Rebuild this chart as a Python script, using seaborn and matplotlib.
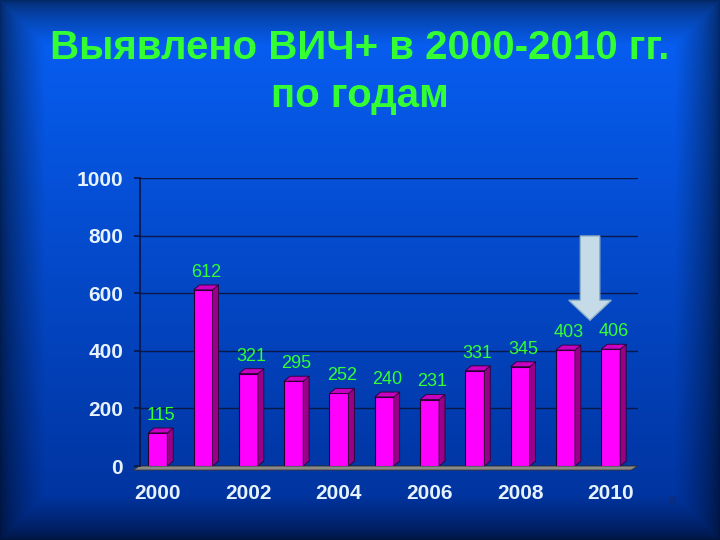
import numpy as np
import pandas as pd
import matplotlib
matplotlib.use('Agg')
import matplotlib.pyplot as plt
from matplotlib.patches import Polygon
import seaborn as sns

# data
years = ['2000', '2001', '2002', '2003', '2004', '2005',
         '2006', '2007', '2008', '2009', '2010']
cases = [115, 612, 321, 295, 252, 240, 231, 331, 345, 403, 406]
shown_years = ['2000', '2002', '2004', '2006', '2008', '2010']
y_ticks = [0, 200, 400, 600, 800, 1000]

title_1 = 'Выявлено ВИЧ+ в 2000-2010 гг.'
title_2 = 'по годам'

sns.set_theme(style='white')
plt.rcParams['font.family'] = ['Liberation Sans', 'DejaVu Sans']

fig = plt.figure(figsize=(7.2, 5.4), dpi=100)

# blue slide background with dark edges
bg = fig.add_axes([0, 0, 1, 1])
h, w = 540, 720
yy, xx = np.mgrid[0:h, 0:w]
t = (yy / h)[..., None]
top = np.array([0.03, 0.38, 0.97])
bottom = np.array([0.0, 0.19, 0.60])
img = top * (1 - t) + bottom * t
edge = np.minimum.reduce([xx, w - 1 - xx, yy, h - 1 - yy]) / 45
vign = 0.42 + 0.58 * np.clip(edge, 0, 1) ** 0.7
img = img * vign[..., None]
bg.imshow(img, aspect='auto', extent=[0, 1, 0, 1])
bg.axis('off')

# chart
ax = fig.add_axes([0.194, 0.137, 0.692, 0.533])
ax.patch.set_alpha(0)
df = pd.DataFrame({'year': years, 'cases': cases})
sns.barplot(data=df, x='year', y='cases', color='#ff00ff', saturation=1,
            width=0.42, edgecolor='#2a0030', linewidth=0.8, ax=ax, zorder=3)

ax.set_xlim(-0.4, 10.6)
ax.set_ylim(0, 1000)
ax.set_yticks(y_ticks)
ax.set_xticks([years.index(y) for y in shown_years])
ax.set_xticklabels(shown_years)
ax.set_xlabel('')
ax.set_ylabel('')
ax.yaxis.grid(True, color='#081848', linewidth=1, zorder=0)
for s in ['top', 'right', 'bottom']:
    ax.spines[s].set_visible(False)
ax.spines['left'].set_color('#081848')
ax.tick_params(axis='y', colors='#081848', labelcolor='#e6f2ff',
               labelsize=15, length=4, pad=8, left=True)
ax.tick_params(axis='x', labelcolor='#e6f2ff', labelsize=15, length=0, pad=13)
for lab in ax.get_xticklabels() + ax.get_yticklabels():
    lab.set_fontweight('bold')

# gray floor
floor = Polygon([(-0.55, -14), (10.45, -14), (10.6, 0), (-0.4, 0)],
                closed=True, facecolor='#8a8a8a', edgecolor='#303030',
                linewidth=0.6, clip_on=False, zorder=2)
ax.add_patch(floor)

# 3d look for the bars + value labels
dx, dy = 0.13, 17
for p, v in zip(ax.patches[:len(cases)], cases):
    x0, bw, bh = p.get_x(), p.get_width(), p.get_height()
    side = Polygon([(x0 + bw, 0), (x0 + bw + dx, dy), (x0 + bw + dx, bh + dy), (x0 + bw, bh)],
                   closed=True, facecolor='#990088', edgecolor='#2a0030',
                   linewidth=0.6, zorder=3)
    cap = Polygon([(x0, bh), (x0 + dx, bh + dy), (x0 + bw + dx, bh + dy), (x0 + bw, bh)],
                  closed=True, facecolor='#c800c0', edgecolor='#2a0030',
                  linewidth=0.6, zorder=3)
    ax.add_patch(side)
    ax.add_patch(cap)
    ax.annotate(str(v), (x0 + bw / 2 + dx / 2, bh + dy), xytext=(0, 3),
                textcoords='offset points', ha='center', va='bottom',
                color='#33ff33', fontsize=13)

# arrow pointing at 2010
arrow = Polygon([(0.806, 0.563), (0.833, 0.563), (0.833, 0.444), (0.849, 0.444),
                 (0.8195, 0.407), (0.790, 0.444), (0.806, 0.444)],
                closed=True, transform=fig.transFigure, facecolor='#c5dbe8',
                edgecolor='#8fb0c8', linewidth=1, zorder=5)
fig.patches.append(arrow)

# title
fig.text(0.5, 0.912, title_1, ha='center', va='center', fontsize=29,
         fontweight='bold', color='#33ff33')
fig.text(0.5, 0.822, title_2, ha='center', va='center', fontsize=29,
         fontweight='bold', color='#33ff33')

fig.text(0.933, 0.07, '9', ha='center', va='center', fontsize=9, color='#102a70')

fig.savefig('out.png', dpi=100)
